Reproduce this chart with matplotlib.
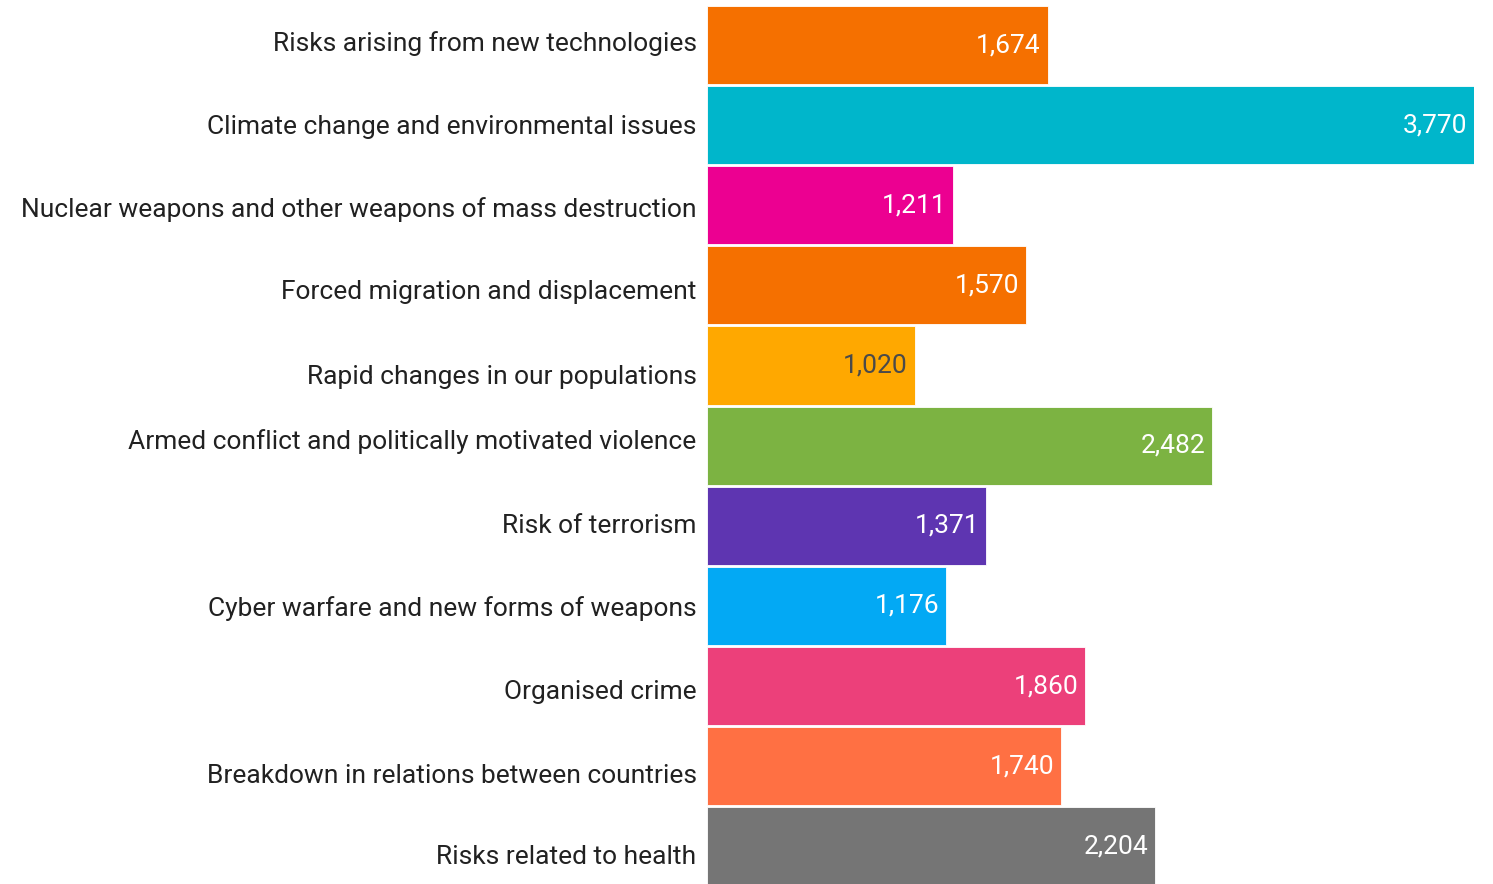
import matplotlib.pyplot as plt

plt.rcParams['font.family'] = ['Roboto', 'DejaVu Sans']

categories = [
    "Risks arising from new technologies",
    "Climate change and environmental issues",
    "Nuclear weapons and other weapons of mass destruction",
    "Forced migration and displacement",
    "Rapid changes in our populations",
    "Armed conflict and politically motivated violence",
    "Risk of terrorism",
    "Cyber warfare and new forms of weapons",
    "Organised crime",
    "Breakdown in relations between countries",
    "Risks related to health",
]
values = [1674, 3770, 1211, 1570, 1020, 2482, 1371, 1176, 1860, 1740, 2204]
colors = ["#F57000", "#00B6CB", "#EC0091", "#F57000", "#FFA800", "#7CB342",
          "#5E35B1", "#03A9F4", "#EC407A", "#FF7043", "#757575"]
value_colors = ["white"] * 11
value_colors[4] = "#4a4a4a"
# small vertical nudges (points) of the category labels, as in the original
label_nudge = [1, -1, -3, -5, -8, 3, 0, -2, -4, -7, -8]

fig = plt.figure(figsize=(14.93, 8.84), dpi=100)
ax = fig.add_axes([707 / 1493, 0, 767 / 1493, 1])

ys = list(range(len(categories)))
ax.barh(ys, values, height=0.975, color=colors, edgecolor="white", linewidth=0.6)
ax.set_xlim(0, 3770)
ax.set_ylim(10.47, -0.562)
ax.axis("off")

for i, (cat, v) in enumerate(zip(categories, values)):
    ax.annotate(cat, xy=(0, i), xycoords=("axes fraction", "data"),
                xytext=(-7.5, label_nudge[i]), textcoords="offset points",
                ha="right", va="center", fontsize=19, color="#212121")
    ax.annotate(f"{v:,}", xy=(v, i), xytext=(-5, 0), textcoords="offset points",
                ha="right", va="center", fontsize=19, color=value_colors[i])

fig.savefig("out.png", dpi=100)
